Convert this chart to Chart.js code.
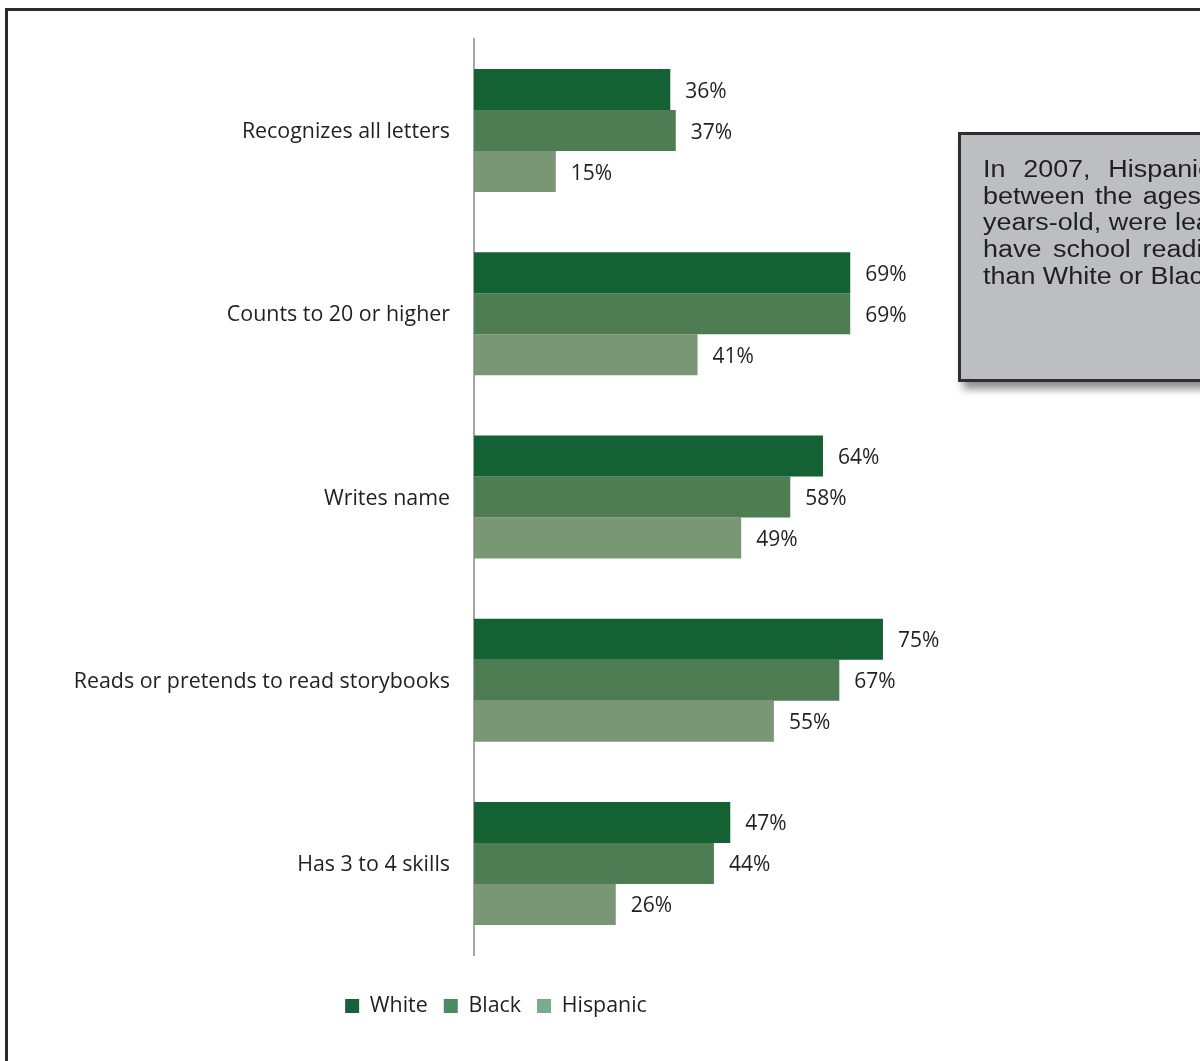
<!DOCTYPE html>
<html><head><meta charset="utf-8">
<script src="https://cdn.jsdelivr.net/npm/chart.js@4/dist/chart.umd.min.js"></script>
<style>
html,body{margin:0;padding:0;width:1200px;height:1061px;overflow:hidden;background:#fff;}
#frame{position:absolute;left:5px;top:8px;width:1400px;height:1300px;border:3px solid #2b2b2b;box-sizing:border-box;}
#wrap{position:absolute;left:0;top:0;width:1000px;height:1061px;}
#note{position:absolute;left:958px;top:132px;width:400px;height:250px;box-sizing:border-box;border:3px solid #2e2e2e;background:#bdbec1;box-shadow:5px 7px 8px rgba(0,0,0,0.45);}
#note .txt{position:absolute;left:22px;top:21px;font-family:"Liberation Sans",Arial,sans-serif;font-size:23px;line-height:26.7px;color:#231f20;transform:scaleX(1.17);transform-origin:0 0;white-space:nowrap;}
</style></head>
<body>
<div id="frame"></div>
<div id="wrap"><canvas id="c" width="1000" height="1061"></canvas></div>
<div id="note"><div class="txt">
<div style="word-spacing:8.8px">In 2007, Hispanic children</div>
<div style="word-spacing:2.4px">between the ages of 3 to 5</div>
<div style="word-spacing:0.2px">years-old, were least likely to</div>
<div style="word-spacing:3.6px">have school readiness skills</div>
<div>than White or Black children.</div>
</div></div>
<script>
const categories = ['Recognizes all letters','Counts to 20 or higher','Writes name','Reads or pretends to read storybooks','Has 3 to 4 skills'];
const seriesNames = ['White','Black','Hispanic'];
const whiteValues = [36,69,64,75,47];
const blackValues = [37,69,58,67,44];
const hispanicValues = [15,41,49,55,26];
const barColors = ['#146133','#4e7d54','#7a9775'];
const legendColors = ['#17613a','#4a8a60','#7aab8c'];

const FONT = {family:'"Open Sans", sans-serif', size:21.4};
const VFONT = {family:'"Open Sans", sans-serif', size:21};
const TEXT = '#231f20';

const labelPlugin = {
  id:'valueLabels',
  afterDatasetsDraw(chart){
    const ctx = chart.ctx;
    ctx.save();
    ctx.font = VFONT.size + 'px ' + VFONT.family;
    ctx.fillStyle = TEXT;
    ctx.textAlign = 'left';
    ctx.textBaseline = 'middle';
    chart.data.datasets.forEach((ds,i)=>{
      chart.getDatasetMeta(i).data.forEach((bar,j)=>{
        ctx.fillText(ds.data[j] + '%', bar.x + 15, bar.y + 2);
      });
    });
    ctx.restore();
  }
};

new Chart(document.getElementById('c'), {
  type:'bar',
  data:{
    labels:categories,
    datasets:[whiteValues,blackValues,hispanicValues].map((d,i)=>({
      label:seriesNames[i], data:d, backgroundColor:barColors[i], borderWidth:0,
      categoryPercentage:0.6714, barPercentage:1.0
    }))
  },
  options:{
    indexAxis:'y',
    responsive:false,
    animation:false,
    layout:{padding:{left:0,right:8,top:39,bottom:34.25}},
    scales:{
      x:{min:0,max:95,display:true,grid:{display:false,drawTicks:false},border:{display:false},
         ticks:{display:false},afterFit(s){s.height = 24.25;}},
      y:{grid:{display:false,drawTicks:false},border:{display:true,color:'#a6a6a6',width:2},
         ticks:{color:TEXT,font:FONT,padding:24,labelOffset:1.5},afterFit(s){s.width = 474;}}
    },
    plugins:{
      tooltip:{enabled:false},
      legend:{position:'bottom',
        labels:{boxWidth:14,boxHeight:14,padding:16,color:TEXT,font:FONT,
          generateLabels(chart){
            return chart.data.datasets.map((ds,i)=>({text:ds.label,fillStyle:legendColors[i],strokeStyle:legendColors[i],lineWidth:0,datasetIndex:i,hidden:false,fontColor:TEXT}));
          }}}
    }
  },
  plugins:[labelPlugin]
});
</script>
</body></html>
